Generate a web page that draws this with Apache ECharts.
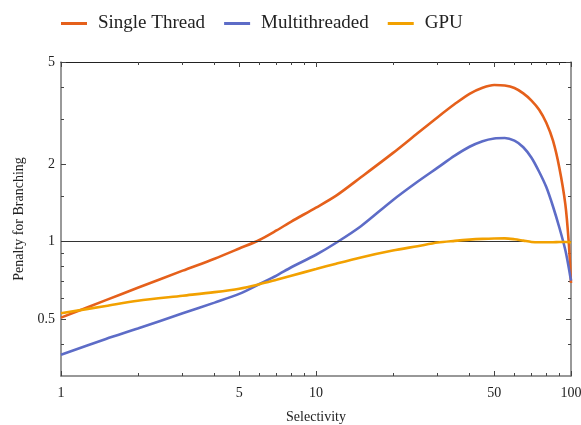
<!DOCTYPE html>
<html><head><meta charset="utf-8">
<script src="https://cdn.jsdelivr.net/npm/echarts@6/dist/echarts.min.js"></script>
<style>html,body{margin:0;padding:0;background:#fff}#c{width:581px;height:425px}</style>
</head><body><div id="c"></div>
<script>
const selectivity = [1,1.5,2,3,4,5,6,7,8,10,12,15,20,25,30,35,40,45,50,55,60,65,70,75,80,85,90,95,98,100];
const singleThread = [0.506,0.592,0.661,0.771,0.858,0.94,1.015,1.105,1.197,1.356,1.51,1.78,2.21,2.64,3.05,3.43,3.76,3.97,4.07,4.05,3.96,3.775,3.54,3.26,2.90,2.47,1.94,1.40,0.99,0.69];
const multithreaded = [0.363,0.418,0.459,0.526,0.579,0.626,0.684,0.738,0.795,0.889,0.99,1.148,1.45,1.71,1.94,2.16,2.34,2.46,2.52,2.53,2.47,2.33,2.12,1.87,1.63,1.37,1.135,0.928,0.792,0.705];
const gpu = [0.526,0.562,0.589,0.616,0.636,0.656,0.683,0.711,0.737,0.782,0.821,0.868,0.923,0.96,0.992,1.007,1.018,1.025,1.029,1.03,1.022,1.009,0.997,0.994,0.994,0.995,0.996,0.997,0.996,0.99];
const seriesNames = ['Single Thread','Multithreaded','GPU'];
const xMajorTicks = [1,5,10,50,100];
const xMinorTicks = [2,3,4,6,7,8,9,20,30,40,60,70,80,90];
const yMajorTicks = [0.5,1,2,5];
const yMinorTicks = [0.4,0.6,0.7,0.8,0.9,1.5,3,4];
const xRange = [1,100];
const yRange = [0.3,5];

const L = Math.log10;
const FONT = '"Liberation Serif", "Times New Roman", serif';
const fmt = v => { const r = Math.pow(10, v); return String(Math.round(r*100)/100); };
const colors = ['#E5601B','#5D6CC7','#F2A100'];

function xAxisDef(pos, ticks, len, labels, line, name) {
  return {
    type:'value', min:L(xRange[0]), max:L(xRange[1]), position:pos,
    name: name || '', nameLocation:'middle', nameGap:34,
    nameTextStyle:{fontFamily:FONT, fontSize:14, color:'#222'},
    axisLine:{show:line, onZero:false, lineStyle:{color: pos==='top' ? '#222' : '#777', width: pos==='top'?1:1.5}},
    axisTick:{show:true, inside:true, length:len, customValues:ticks.map(L), lineStyle:{color:'#444', width:1}},
    axisLabel:{show:labels, customValues:ticks.map(L), formatter:fmt, margin:10, fontFamily:FONT, fontSize:14, color:'#222'},
    splitLine:{show:false}
  };
}
function yAxisDef(pos, ticks, len, labels, line, name) {
  return {
    type:'value', min:L(yRange[0]), max:L(yRange[1]), position:pos,
    name: name || '', nameLocation:'middle', nameGap:35,
    nameTextStyle:{fontFamily:FONT, fontSize:14, color:'#222'},
    axisLine:{show:line, onZero:false, lineStyle:{color:'#777', width:1.5}},
    axisTick:{show:true, inside:true, length:len, customValues:ticks.map(L), lineStyle:{color:'#444', width:1}},
    axisLabel:{show:labels, customValues:ticks.map(L), formatter:fmt, margin:6, fontFamily:FONT, fontSize:14, color:'#222'},
    splitLine:{show:false}
  };
}

const dataSets = [singleThread, multithreaded, gpu];
const series = dataSets.map((d, i) => ({
  name: seriesNames[i], type:'line', xAxisIndex:0, yAxisIndex:0,
  data: selectivity.map((x, k) => [L(x), L(d[k])]),
  symbol:'none', smooth:0.3, z: 3 + i,
  lineStyle:{color:colors[i], width:2.6}, itemStyle:{color:colors[i]}
}));
series[0].markLine = {
  silent:true, symbol:['none','none'], label:{show:false},
  lineStyle:{color:'#333', width:1.1, type:'solid'},
  data:[{yAxis: L(1)}]
};

const chart = echarts.init(document.getElementById('c'), null, {renderer:'canvas'});
chart.setOption({
  animation:false,
  backgroundColor:'#fff',
  grid:{left:61, right:10, top:62, bottom:49, containLabel:false, outerBoundsMode:'none'},
  legend:{
    left:56, top:9, itemWidth:26, itemHeight:3, itemGap:19, icon:'rect',
    textStyle:{fontFamily:FONT, fontSize:19, color:'#222', padding:[0,0,0,6]},
    data: seriesNames
  },
  xAxis:[
    xAxisDef('bottom', xMajorTicks, 5, true, true, 'Selectivity'),
    xAxisDef('bottom', xMinorTicks, 3, false, false),
    xAxisDef('top', xMajorTicks, 5, false, true),
    xAxisDef('top', xMinorTicks, 3, false, false)
  ],
  yAxis:[
    yAxisDef('left', yMajorTicks, 5, true, true, 'Penalty for Branching'),
    yAxisDef('left', yMinorTicks, 3, false, false),
    yAxisDef('right', yMajorTicks, 5, false, true),
    yAxisDef('right', yMinorTicks, 3, false, false)
  ],
  series: series
});
</script>
</body></html>
